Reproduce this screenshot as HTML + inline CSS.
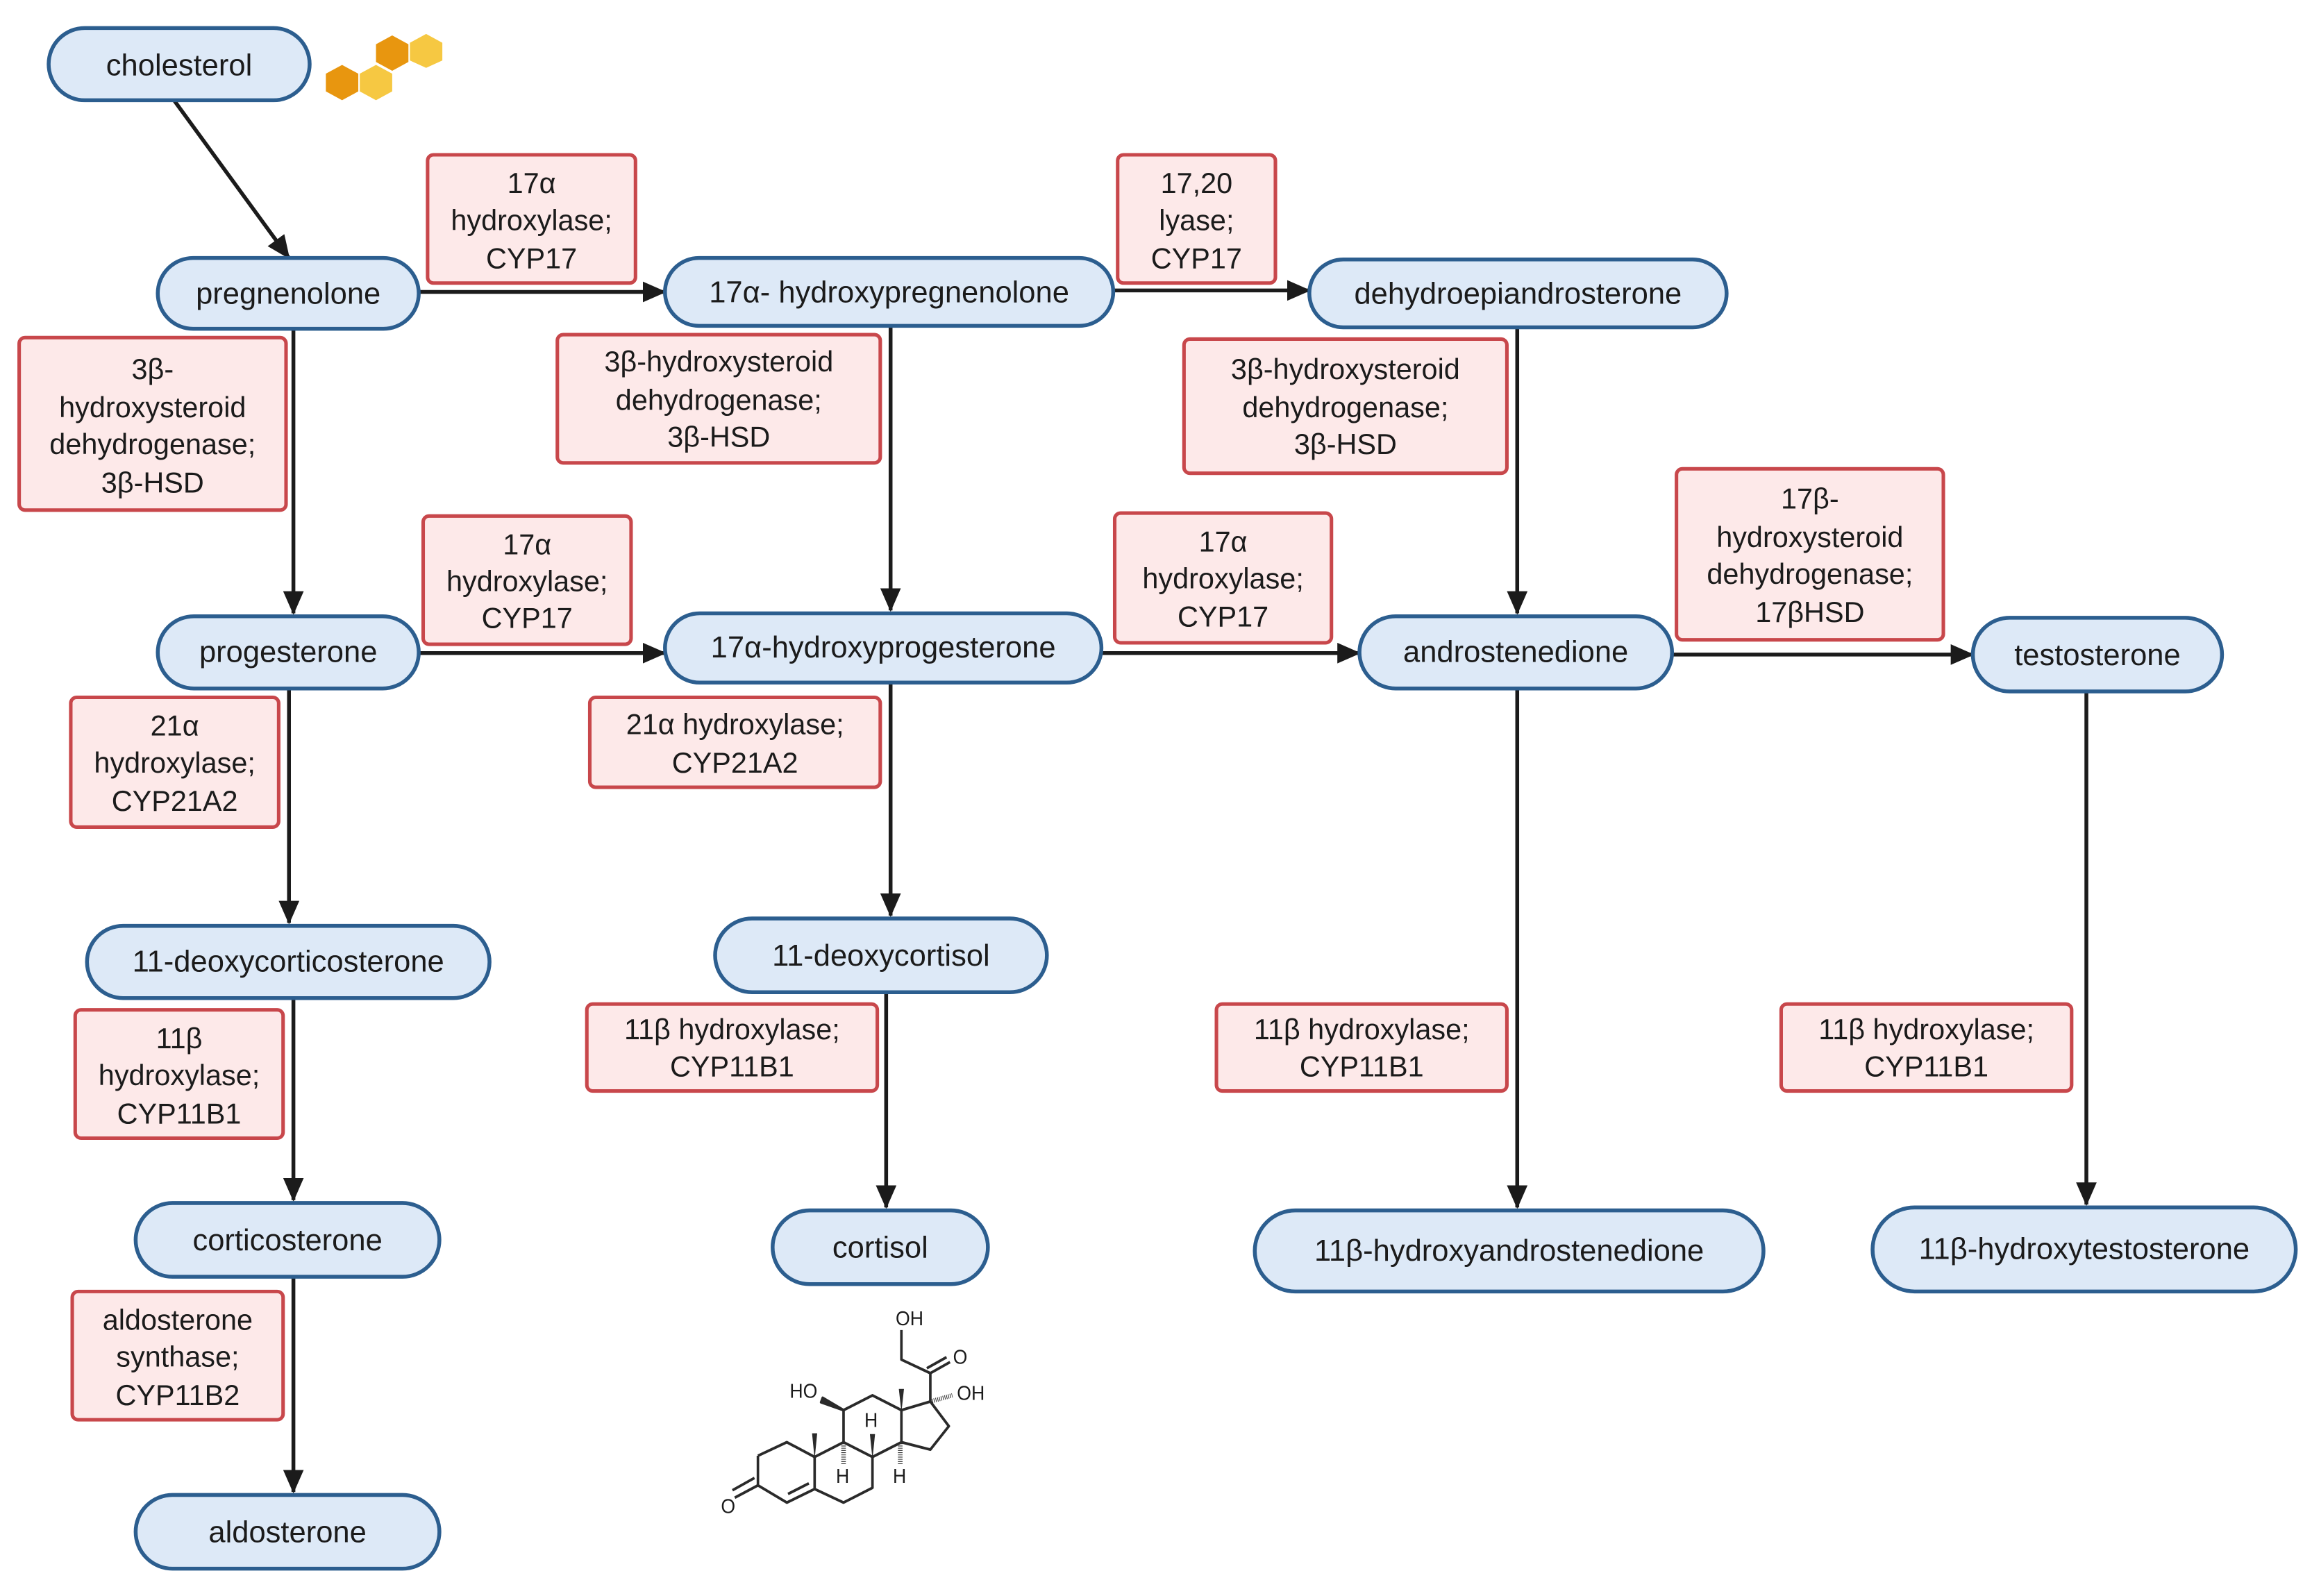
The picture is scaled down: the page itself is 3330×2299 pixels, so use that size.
<!DOCTYPE html>
<html><head><meta charset="utf-8"><style>
html,body{margin:0;padding:0;background:#fff;}
svg{display:block;}
text{font-family:"Liberation Sans",sans-serif;fill:#1b1b1b;}
.n rect{fill:#dde9f7;stroke:#2c5e8f;stroke-width:2.6;}
.e rect{fill:#fde9e9;stroke:#c8474b;stroke-width:2.4;}
.n text{font-size:20.5px;text-anchor:middle;}
.e text{font-size:19.5px;text-anchor:middle;}
.a{stroke:#1b1b1b;stroke-width:2.6;fill:none;}
</style></head><body>
<svg width="3330" height="2299" viewBox="0 0 3330 2299" xmlns="http://www.w3.org/2000/svg">
<defs>
<marker id="ah2" markerWidth="16" markerHeight="14" refX="15" refY="7" orient="auto" markerUnits="userSpaceOnUse"><path d="M0,0 L16,7 L0,14 z" fill="#1b1b1b"/></marker></defs>
<g transform="scale(2.1237)">
<g class="a" marker-end="url(#ah2)">
<line x1="118" y1="68" x2="196" y2="175"/>
<line x1="284" y1="198" x2="451" y2="198"/>
<line x1="755" y1="197" x2="888" y2="197"/>
<line x1="199" y1="223" x2="199" y2="416"/>
<line x1="604" y1="221" x2="604" y2="414"/>
<line x1="1029" y1="222" x2="1029" y2="416"/>
<line x1="284" y1="443" x2="451" y2="443"/>
<line x1="747" y1="443" x2="922" y2="443"/>
<line x1="1134" y1="444" x2="1338" y2="444"/>
<line x1="196" y1="467" x2="196" y2="626"/>
<line x1="604" y1="463" x2="604" y2="621"/>
<line x1="199" y1="677" x2="199" y2="814"/>
<line x1="601" y1="673" x2="601" y2="819"/>
<line x1="1029" y1="467" x2="1029" y2="819"/>
<line x1="1415" y1="469" x2="1415" y2="817"/>
<line x1="199" y1="866" x2="199" y2="1012"/>
</g>
<g class="n">
<rect x="33" y="19" width="177" height="49" rx="24.5"/><text x="121.5" y="51">cholesterol</text>
<rect x="107" y="175" width="177" height="48" rx="24"/><text x="195.5" y="206">pregnenolone</text>
<rect x="451" y="175" width="304" height="46" rx="23"/><text x="603" y="205">17α- hydroxypregnenolone</text>
<rect x="888" y="176" width="283" height="46" rx="23"/><text x="1029.5" y="206">dehydroepiandrosterone</text>
<rect x="107" y="418" width="177" height="49" rx="24.5"/><text x="195.5" y="449">progesterone</text>
<rect x="451" y="416" width="296" height="47" rx="23.5"/><text x="599" y="446">17α-hydroxyprogesterone</text>
<rect x="922" y="418" width="212" height="49" rx="24.5"/><text x="1028" y="449">androstenedione</text>
<rect x="1338" y="419" width="169" height="50" rx="25"/><text x="1422.5" y="451">testosterone</text>
<rect x="59" y="628" width="273" height="49" rx="24.5"/><text x="195.5" y="659">11-deoxycorticosterone</text>
<rect x="485" y="623" width="225" height="50" rx="25"/><text x="597.5" y="655">11-deoxycortisol</text>
<rect x="92" y="816" width="206" height="50" rx="25"/><text x="195" y="848">corticosterone</text>
<rect x="524" y="821" width="146" height="50" rx="25"/><text x="597" y="853">cortisol</text>
<rect x="851" y="821" width="345" height="55" rx="27.5"/><text x="1023.5" y="855">11β-hydroxyandrostenedione</text>
<rect x="1270" y="819" width="287" height="57" rx="28.5"/><text x="1413.5" y="854">11β-hydroxytestosterone</text>
<rect x="92" y="1014" width="206" height="50" rx="25"/><text x="195" y="1046">aldosterone</text>
</g>
<g class="e">
<rect x="290" y="105" width="141" height="87" rx="4"/><text x="360.5" y="131">17α</text><text x="360.5" y="156">hydroxylase;</text><text x="360.5" y="182">CYP17</text>
<rect x="758" y="105" width="107" height="87" rx="4"/><text x="811.5" y="131">17,20</text><text x="811.5" y="156">lyase;</text><text x="811.5" y="182">CYP17</text>
<rect x="13" y="229" width="181" height="117" rx="4"/><text x="103.5" y="257">3β-</text><text x="103.5" y="283">hydroxysteroid</text><text x="103.5" y="308">dehydrogenase;</text><text x="103.5" y="334">3β-HSD</text>
<rect x="378" y="227" width="219" height="87" rx="4"/><text x="487.5" y="252">3β-hydroxysteroid</text><text x="487.5" y="278">dehydrogenase;</text><text x="487.5" y="303">3β-HSD</text>
<rect x="803" y="230" width="219" height="91" rx="4"/><text x="912.5" y="257">3β-hydroxysteroid</text><text x="912.5" y="283">dehydrogenase;</text><text x="912.5" y="308">3β-HSD</text>
<rect x="287" y="350" width="141" height="87" rx="4"/><text x="357.5" y="376">17α</text><text x="357.5" y="401">hydroxylase;</text><text x="357.5" y="426">CYP17</text>
<rect x="756" y="348" width="147" height="88" rx="4"/><text x="829.5" y="374">17α</text><text x="829.5" y="399">hydroxylase;</text><text x="829.5" y="425">CYP17</text>
<rect x="1137" y="318" width="181" height="116" rx="4"/><text x="1227.5" y="345">17β-</text><text x="1227.5" y="371">hydroxysteroid</text><text x="1227.5" y="396">dehydrogenase;</text><text x="1227.5" y="422">17βHSD</text>
<rect x="48" y="473" width="141" height="88" rx="4"/><text x="118.5" y="499">21α</text><text x="118.5" y="524">hydroxylase;</text><text x="118.5" y="550">CYP21A2</text>
<rect x="400" y="473" width="197" height="61" rx="4"/><text x="498.5" y="498">21α hydroxylase;</text><text x="498.5" y="524">CYP21A2</text>
<rect x="51" y="685" width="141" height="87" rx="4"/><text x="121.5" y="711">11β</text><text x="121.5" y="736">hydroxylase;</text><text x="121.5" y="762">CYP11B1</text>
<rect x="398" y="681" width="197" height="59" rx="4"/><text x="496.5" y="705">11β hydroxylase;</text><text x="496.5" y="730">CYP11B1</text>
<rect x="825" y="681" width="197" height="59" rx="4"/><text x="923.5" y="705">11β hydroxylase;</text><text x="923.5" y="730">CYP11B1</text>
<rect x="1208" y="681" width="197" height="59" rx="4"/><text x="1306.5" y="705">11β hydroxylase;</text><text x="1306.5" y="730">CYP11B1</text>
<rect x="49" y="876" width="143" height="87" rx="4"/><text x="120.5" y="902">aldosterone</text><text x="120.5" y="927">synthase;</text><text x="120.5" y="953">CYP11B2</text>
</g>
<g>
<polygon points="232,44 243,50 243,62 232,68 221,62 221,50" fill="#e8960f"/>
<polygon points="255,44 266,50 266,62 255,68 244,62 244,50" fill="#f6c842"/>
<polygon points="266,24 277,30 277,42 266,48 255,42 255,30" fill="#e8960f"/>
<polygon points="289,23 300,29 300,41 289,46 278,41 278,29" fill="#f6c842"/>
</g>
</g>
<g transform="translate(1000,1726) scale(0.3333,0.355)" stroke="#2a2a2a" stroke-width="11" fill="none" stroke-linejoin="round">
<polyline points="275,1045 400,990 520,1050 520,1180 400,1235 275,1165 275,1045"/>
<line x1="405" y1="1200" x2="495" y2="1157"/>
<line x1="275" y1="1165" x2="175" y2="1215"/><line x1="260" y1="1135" x2="165" y2="1185"/>
<polyline points="520,1050 645,990 770,1050 770,1175 645,1235 520,1180"/>
<polyline points="645,990 645,860 770,800 895,860 895,990 770,1050"/>
<polyline points="895,860 1020,825 1100,925 1020,1020 895,990"/>
<polyline points="1020,825 1020,710 895,655 895,535"/>
<line x1="1020" y1="710" x2="1105" y2="665"/><line x1="1005" y1="690" x2="1090" y2="645"/>
<line x1="1020" y1="825" x2="1115" y2="800" stroke-dasharray="3,5" stroke-width="18"/>
<polygon points="645,860 555,810 548,828" fill="#2a2a2a"/>
<polygon points="520,1050 510,955 530,955" fill="#2a2a2a" stroke-width="2"/>
<polygon points="895,860 885,775 905,775" fill="#2a2a2a" stroke-width="2"/>
<polygon points="770,1050 760,958 780,958" fill="#2a2a2a" stroke-width="2"/>
<line x1="645" y1="995" x2="645" y2="1080" stroke-dasharray="3,6" stroke-width="20"/>
<line x1="890" y1="995" x2="890" y2="1080" stroke-dasharray="3,6" stroke-width="20"/>
<g stroke="none" fill="#2a2a2a" font-family="Liberation Sans,sans-serif" font-size="80">
<text x="115" y="1278">O</text>
<text x="1118" y="672">O</text>
<text x="870" y="515">OH</text>
<text x="1135" y="818">OH</text>
<text x="412" y="810">HO</text>
<text x="735" y="928">H</text>
<text x="612" y="1155">H</text>
<text x="858" y="1155">H</text>
</g>
</g>
</svg>
</body></html>
